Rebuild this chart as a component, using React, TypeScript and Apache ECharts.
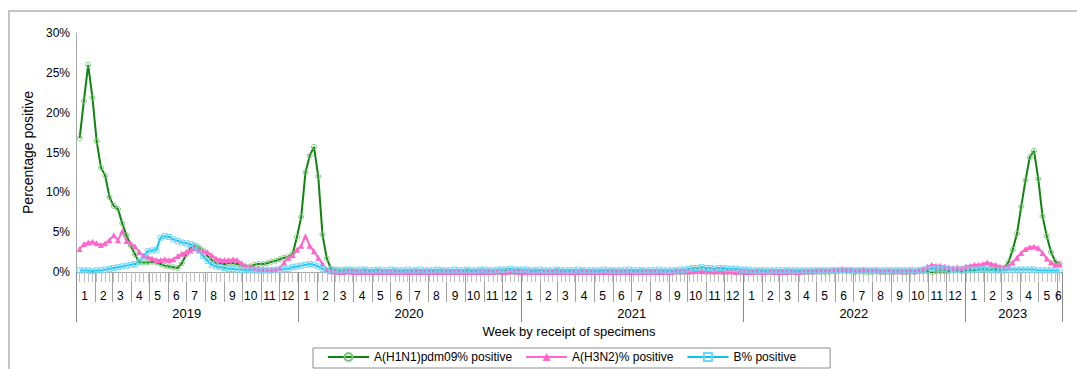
import React, { useEffect, useRef } from "react";
import * as echarts from "echarts";

// Weekly percentage positive, week 1 of 2019 to week 22 of 2023
const h1n1_2019 = [16.8, 21.5, 26.0, 21.9, 16.4, 13.1, 12.1, 9.4, 8.3, 7.9, 6.1, 4.6, 3.3, 2.2, 1.2, 1.2, 1.2, 1.3, 1.2, 1.0, 0.8, 0.7, 0.6, 0.5, 1.1, 2.2, 3.0, 3.3, 3.1, 2.7, 2.0, 1.5, 1.1, 1.0, 1.0, 1.1, 1.1, 1.0, 0.8, 0.6, 0.7, 0.9, 1.0, 1.0, 1.1, 1.3, 1.4, 1.6, 1.8, 1.9, 2.3, 4.4];
const h1n1_2020 = [6.9, 12.5, 14.6, 15.7, 12.0, 4.7, 1.7, 0.4, 0.2, 0.2, 0.1, 0.1, 0.1, 0.1, 0.0, 0.1, 0.0, 0.0, 0.1, 0.0, 0.0, 0.0, 0.1, 0.0, 0.0, 0.0, 0.0, 0.1, 0.0, 0.0, 0.0, 0.0, 0.0, 0.1, 0.0, 0.0, 0.0, 0.0, 0.0, 0.1, 0.0, 0.0, 0.0, 0.0, 0.1, 0.0, 0.0, 0.0, 0.1, 0.0, 0.0, 0.1, 0.0];
const h1n1_2021 = [0.0, 0.0, 0.1, 0.0, 0.0, 0.0, 0.0, 0.1, 0.0, 0.0, 0.0, 0.0, 0.0, 0.1, 0.0, 0.0, 0.0, 0.0, 0.0, 0.0, 0.1, 0.0, 0.0, 0.0, 0.0, 0.0, 0.0, 0.1, 0.0, 0.0, 0.0, 0.0, 0.0, 0.0, 0.0, 0.1, 0.0, 0.0, 0.0, 0.1, 0.1, 0.1, 0.0, 0.1, 0.0, 0.1, 0.0, 0.0, 0.1, 0.0, 0.0, 0.0];
const h1n1_2022 = [0.0, 0.0, 0.0, 0.1, 0.0, 0.0, 0.0, 0.0, 0.0, 0.1, 0.0, 0.0, 0.0, 0.0, 0.0, 0.0, 0.1, 0.0, 0.0, 0.0, 0.1, 0.1, 0.2, 0.1, 0.1, 0.0, 0.1, 0.0, 0.0, 0.0, 0.1, 0.0, 0.0, 0.0, 0.0, 0.1, 0.0, 0.0, 0.0, 0.0, 0.1, 0.1, 0.1, 0.0, 0.1, 0.1, 0.1, 0.1, 0.2, 0.2, 0.1, 0.2];
const h1n1_2023 = [0.2, 0.2, 0.3, 0.3, 0.3, 0.3, 0.4, 0.4, 0.5, 1.2, 2.8, 4.8, 8.2, 11.5, 14.4, 15.2, 11.7, 7.0, 4.5, 2.5, 1.3, 1.0];

const h3n2_2019 = [2.9, 3.5, 3.7, 3.8, 3.6, 3.4, 3.6, 4.0, 4.6, 4.0, 5.1, 3.9, 3.6, 3.2, 2.5, 2.0, 1.9, 1.7, 1.5, 1.5, 1.6, 1.5, 1.6, 2.0, 2.3, 2.5, 2.7, 3.0, 2.7, 2.6, 2.5, 2.1, 1.7, 1.5, 1.5, 1.5, 1.6, 1.5, 1.1, 0.8, 0.6, 0.5, 0.4, 0.3, 0.3, 0.3, 0.3, 0.5, 1.2, 1.8, 2.1, 2.8];
const h3n2_2020 = [3.3, 4.5, 3.3, 2.6, 1.8, 1.0, 0.3, 0.1, 0.1, 0.0, 0.0, 0.1, 0.0, 0.0, 0.0, 0.0, 0.0, 0.0, 0.0, 0.0, 0.0, 0.0, 0.0, 0.0, 0.0, 0.0, 0.0, 0.0, 0.0, 0.0, 0.0, 0.0, 0.0, 0.0, 0.0, 0.0, 0.0, 0.0, 0.0, 0.0, 0.0, 0.0, 0.0, 0.0, 0.0, 0.0, 0.1, 0.0, 0.0, 0.1, 0.1, 0.0, 0.0];
const h3n2_2021 = [0.0, 0.0, 0.0, 0.0, 0.0, 0.0, 0.0, 0.0, 0.0, 0.0, 0.0, 0.0, 0.0, 0.0, 0.0, 0.0, 0.0, 0.0, 0.0, 0.0, 0.0, 0.0, 0.0, 0.0, 0.0, 0.0, 0.0, 0.0, 0.0, 0.0, 0.0, 0.0, 0.0, 0.0, 0.0, 0.1, 0.1, 0.1, 0.1, 0.1, 0.2, 0.1, 0.2, 0.1, 0.1, 0.1, 0.1, 0.1, 0.1, 0.0, 0.1, 0.0];
const h3n2_2022 = [0.0, 0.0, 0.1, 0.0, 0.0, 0.1, 0.0, 0.0, 0.0, 0.0, 0.1, 0.0, 0.0, 0.1, 0.1, 0.1, 0.1, 0.2, 0.2, 0.2, 0.3, 0.3, 0.4, 0.3, 0.3, 0.2, 0.2, 0.3, 0.2, 0.2, 0.2, 0.1, 0.1, 0.2, 0.1, 0.1, 0.1, 0.1, 0.2, 0.1, 0.2, 0.4, 0.7, 0.9, 0.8, 0.8, 0.7, 0.6, 0.5, 0.6, 0.5, 0.7];
const h3n2_2023 = [0.8, 0.9, 0.9, 1.0, 1.2, 1.0, 0.9, 0.7, 0.6, 0.8, 1.2, 1.8, 2.4, 2.9, 3.1, 3.2, 3.0, 2.4, 1.7, 1.2, 0.9, 1.0];

const b_2019 = [0.2, 0.2, 0.2, 0.1, 0.2, 0.2, 0.3, 0.4, 0.5, 0.6, 0.7, 0.8, 0.9, 1.0, 1.3, 2.0, 2.6, 2.7, 2.8, 4.3, 4.5, 4.4, 4.1, 3.9, 3.7, 3.6, 3.5, 3.3, 2.8, 2.0, 1.4, 0.9, 0.7, 0.6, 0.5, 0.4, 0.4, 0.3, 0.3, 0.2, 0.2, 0.2, 0.2, 0.2, 0.2, 0.2, 0.3, 0.3, 0.4, 0.4, 0.6, 0.7];
const b_2020 = [0.8, 0.9, 1.0, 0.9, 0.7, 0.4, 0.2, 0.3, 0.3, 0.2, 0.3, 0.3, 0.3, 0.2, 0.3, 0.3, 0.2, 0.2, 0.3, 0.2, 0.2, 0.3, 0.2, 0.2, 0.2, 0.3, 0.2, 0.2, 0.3, 0.2, 0.2, 0.2, 0.3, 0.2, 0.2, 0.2, 0.3, 0.2, 0.2, 0.3, 0.2, 0.2, 0.3, 0.3, 0.2, 0.2, 0.3, 0.3, 0.3, 0.4, 0.3, 0.3, 0.3];
const b_2021 = [0.3, 0.2, 0.2, 0.3, 0.2, 0.2, 0.2, 0.3, 0.2, 0.2, 0.2, 0.2, 0.3, 0.2, 0.2, 0.2, 0.2, 0.2, 0.3, 0.2, 0.2, 0.2, 0.2, 0.2, 0.3, 0.2, 0.2, 0.2, 0.2, 0.2, 0.2, 0.3, 0.2, 0.2, 0.2, 0.2, 0.3, 0.3, 0.4, 0.5, 0.5, 0.6, 0.5, 0.5, 0.4, 0.5, 0.5, 0.4, 0.4, 0.4, 0.3, 0.3];
const b_2022 = [0.3, 0.2, 0.2, 0.2, 0.2, 0.2, 0.2, 0.2, 0.2, 0.2, 0.2, 0.2, 0.2, 0.2, 0.2, 0.2, 0.2, 0.2, 0.2, 0.2, 0.2, 0.2, 0.2, 0.2, 0.2, 0.2, 0.2, 0.2, 0.2, 0.2, 0.2, 0.2, 0.2, 0.2, 0.2, 0.2, 0.2, 0.2, 0.2, 0.2, 0.2, 0.3, 0.3, 0.4, 0.4, 0.4, 0.4, 0.3, 0.3, 0.3, 0.3, 0.3];
const b_2023 = [0.3, 0.3, 0.3, 0.4, 0.3, 0.3, 0.2, 0.2, 0.2, 0.3, 0.3, 0.3, 0.3, 0.3, 0.3, 0.3, 0.2, 0.2, 0.2, 0.2, 0.2, 0.2];

const h1n1 = [...h1n1_2019, ...h1n1_2020, ...h1n1_2021, ...h1n1_2022, ...h1n1_2023];
const h3n2 = [...h3n2_2019, ...h3n2_2020, ...h3n2_2021, ...h3n2_2022, ...h3n2_2023];
const bVals = [...b_2019, ...b_2020, ...b_2021, ...b_2022, ...b_2023];

const seriesNames = ["A(H1N1)pdm09% positive", "A(H3N2)% positive", "B% positive"];
const yearLabelDays = ["2019-07-02", "2020-07-01", "2021-07-02", "2022-07-02", "2023-03-20"];
const extraMonthLabelDays = ["2023-06-03"];

// daily category axis (first day, last day)
const firstDay = "2019-01-01";
const lastDay = "2023-06-09";
const firstWeekDay = "2019-01-07";

const FONT = "'Liberation Sans', Arial, sans-serif";

function buildDays(): string[] {
  const out: string[] = [];
  const t0 = Date.parse(firstDay + "T00:00:00Z");
  const t1 = Date.parse(lastDay + "T00:00:00Z");
  for (let t = t0; t <= t1; t += 86400000) out.push(new Date(t).toISOString().slice(0, 10));
  return out;
}

export default function App() {
  const ref = useRef<HTMLDivElement>(null);
  useEffect(() => {
    document.body.style.margin = "0";
    if (!ref.current) return;
    const chart = echarts.init(ref.current, undefined, { renderer: "svg" });
    const days = buildDays();
    const w0 = days.indexOf(firstWeekDay);
    const weekDates = h1n1.map((_, i) => days[w0 + 7 * i]);
    const pair = (vals: number[]) => vals.map((v, i) => [weekDates[i], v]);
    const lastIdx = days.length - 1;

    chart.setOption({
      animation: false,
      textStyle: { fontFamily: FONT },
      graphic: [
        {
          type: "rect",
          z: -10,
          shape: { x: 9, y: 11, width: 1300, height: 600 },
          style: { fill: "none", stroke: "#c4c4c4", lineWidth: 2 },
          silent: true,
        },
      ],
      grid: { left: 76, right: 15, top: 33, bottom: 97, containLabel: false, outerBoundsMode: "none" },
      legend: {
        left: 313,
        top: 348,
        padding: [3, 34, 5, 14],
        itemWidth: 41,
        itemHeight: 10,
        itemGap: 13,
        borderColor: "#8c8c8c",
        borderWidth: 1,
        data: seriesNames,
        textStyle: { fontSize: 12, color: "#000", fontFamily: FONT },
      },
      xAxis: [
        {
          type: "category",
          position: "bottom",
          data: days,
          boundaryGap: false,
          axisLine: { show: true, lineStyle: { color: "#a8a8a8", width: 1 } },
          axisTick: {
            show: true,
            interval: (_i: number, v: string) => v.endsWith("-01"),
            length: 30,
            lineStyle: { color: "#a0a0a0" },
          },
          axisLabel: {
            interval: (_i: number, v: string) => v.endsWith("-15") || extraMonthLabelDays.includes(v),
            formatter: (v: string) => String(Number(v.slice(5, 7))),
            margin: 18,
            fontSize: 12,
            color: "#000",
            fontFamily: FONT,
          },
          splitLine: { show: false },
        },
        {
          type: "category",
          position: "bottom",
          data: days,
          boundaryGap: false,
          axisLine: { show: false },
          axisTick: {
            show: true,
            interval: (i: number) => i >= w0 && (i - w0) % 7 === 0,
            length: 10,
            lineStyle: { color: "#c0c0c0" },
          },
          axisLabel: { show: false },
          splitLine: { show: false },
        },
        {
          type: "category",
          position: "bottom",
          data: days,
          boundaryGap: false,
          axisLine: { show: false },
          axisTick: {
            show: true,
            interval: (i: number, v: string) => v.endsWith("-01-01") || i === lastIdx,
            length: 50,
            lineStyle: { color: "#8a8a8a" },
          },
          axisLabel: {
            interval: (_i: number, v: string) => yearLabelDays.includes(v),
            formatter: (v: string) => v.slice(0, 4),
            margin: 35,
            fontSize: 13,
            color: "#000",
            fontFamily: FONT,
          },
          name: "Week by receipt of specimens",
          nameLocation: "middle",
          nameGap: 52,
          nameTextStyle: { fontSize: 13, color: "#000", fontFamily: FONT },
          splitLine: { show: false },
        },
      ],
      yAxis: {
        type: "value",
        min: 0,
        max: 30,
        interval: 5,
        axisLine: { show: true, lineStyle: { color: "#a8a8a8" } },
        axisTick: { show: false },
        splitLine: { show: false },
        axisLabel: {
          formatter: (v: number) => v + "%",
          fontSize: 12,
          color: "#000",
          margin: 6,
          fontFamily: FONT,
        },
        name: "Percentage positive",
        nameLocation: "middle",
        nameGap: 40,
        nameTextStyle: { fontSize: 14, color: "#000", fontFamily: FONT },
      },
      series: [
        {
          name: seriesNames[0],
          type: "line",
          xAxisIndex: 0,
          data: pair(h1n1),
          showAllSymbol: true,
          symbol: "circle",
          symbolSize: 5,
          color: "#0e850e",
          lineStyle: { color: "#0e850e", width: 2 },
          itemStyle: { color: "rgba(255,255,255,0)", borderColor: "#7cc87c", borderWidth: 1 },
        },
        {
          name: seriesNames[1],
          type: "line",
          xAxisIndex: 0,
          data: pair(h3n2),
          showAllSymbol: true,
          symbol: "triangle",
          symbolSize: 6,
          color: "#ff66cc",
          lineStyle: { color: "#ff66cc", width: 2 },
          itemStyle: { color: "#ff66cc" },
        },
        {
          name: seriesNames[2],
          type: "line",
          xAxisIndex: 0,
          data: pair(bVals),
          showAllSymbol: true,
          symbol: "rect",
          symbolSize: 5,
          color: "#0cc2f5",
          lineStyle: { color: "#0cc2f5", width: 2 },
          itemStyle: { color: "rgba(255,255,255,0)", borderColor: "#6fd6f6", borderWidth: 1 },
        },
      ],
    });
    return () => chart.dispose();
  }, []);
  return <div ref={ref} style={{ width: 1077, height: 369 }} />;
}
